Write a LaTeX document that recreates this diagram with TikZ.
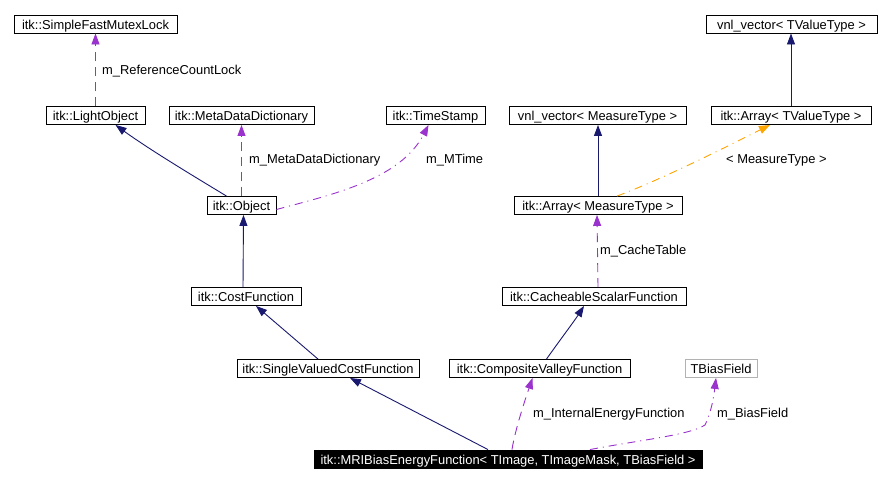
\documentclass[tikz,border=0pt]{standalone}
\usepackage{fontspec}
\setmainfont{Liberation Sans}
\usetikzlibrary{arrows.meta}
\definecolor{edgeblue}{HTML}{191970}
\definecolor{edgepurple}{HTML}{9A32CD}
\definecolor{edgeorange}{HTML}{FFA500}
\begin{document}
\begin{tikzpicture}[x=1pt,y=-1pt,
  cls/.style={draw=black,line width=0.9pt,fill=white,inner sep=0pt,minimum height=18pt,text height=11.5pt,text depth=0.9pt,font=\fontsize{12.9}{14}\selectfont},
  tmpl/.style={cls,draw=black!30},
  focus/.style={cls,fill=black,text=white},
  lbl/.style={anchor=west,inner sep=0pt,font=\fontsize{12.9}{14}\selectfont},
  inherit/.style={draw=edgeblue,line width=0.9pt,-{Triangle[length=11pt,width=8pt]}},
  usage/.style={draw=edgepurple,line width=0.9pt,dash pattern=on 9pt off 6pt,-{Triangle[length=11pt,width=8pt]}},
  usagedd/.style={draw=edgepurple,line width=0.9pt,dash pattern=on 8pt off 5pt on 1pt off 5pt,-{Triangle[length=11pt,width=8pt]}},
  tinst/.style={draw=edgeorange,line width=0.9pt,dash pattern=on 8pt off 5pt on 1pt off 5pt,-{Triangle[length=11pt,width=8pt]}}
]
\useasboundingbox[fill=white] (0,0) rectangle (890,483);
% nodes
\node[cls,minimum width=163pt] (sfml) at (95.5,24) {itk::SimpleFastMutexLock};
\node[cls,minimum width=99pt] (light) at (95.5,115.5) {itk::LightObject};
\node[cls,minimum width=145pt] (meta) at (241.5,115.5) {itk::MetaDataDictionary};
\node[cls,minimum width=99pt] (ts) at (435.5,115.5) {itk::TimeStamp};
\node[cls,minimum width=69pt] (obj) at (241.5,205.5) {itk::Object};
\node[cls,minimum width=110pt] (cost) at (246,296.5) {itk::CostFunction};
\node[cls,minimum width=182pt] (svcf) at (328,368.5) {itk::SingleValuedCostFunction};
\node[cls,minimum width=181pt] (cvf) at (539.5,368.5) {itk::CompositeValleyFunction};
\node[tmpl,minimum width=72pt] (tbf) at (721,368.5) {TBiasField};
\node[focus,minimum width=388pt] (mri) at (508,459) {itk::MRIBiasEnergyFunction< TImage, TImageMask, TBiasField >};
\node[cls,minimum width=177pt] (vnlm) at (597.5,115.5) {vnl\_vector< MeasureType >};
\node[cls,minimum width=160pt] (arrt) at (791,115.5) {itk::Array< TValueType >};
\node[cls,minimum width=171pt] (vnlt) at (791.5,24) {vnl\_vector< TValueType >};
\node[cls,minimum width=168pt] (arrm) at (598,205.5) {itk::Array< MeasureType >};
\node[cls,minimum width=184pt] (csf) at (594,296.5) {itk::CacheableScalarFunction};
% edges
\draw[usage] (light.north) -- (sfml.south);
\node[lbl] (l1) at (102,71) {m\_ReferenceCountLock};
\draw[inherit] ([xshift=-15pt]obj.north) .. controls (200,180) and (150,150) .. ([xshift=20pt]light.south);
\draw[usage] (obj.north) -- (meta.south);
\node[lbl] (l2) at (249,160) {m\_MetaDataDictionary};
\draw[usagedd] ([yshift=-4pt]obj.east) .. controls (330,195) and (400,180) .. ([xshift=-7pt]ts.south);
\node[lbl] (l3) at (426,160) {m\_MTime};
\draw[inherit] ([xshift=-3pt]cost.north) -- ([xshift=2pt]obj.south);
\draw[inherit] ([xshift=-10pt]svcf.north) -- ([xshift=10pt]cost.south);
\draw[inherit] ([xshift=-20pt]mri.north) -- ([xshift=22pt]svcf.south);
\draw[inherit] ([xshift=7pt]cvf.north) .. controls (560,340) and (575,320) .. ([xshift=-10pt]csf.south);
\draw[usage] ([xshift=4pt]csf.north) -- ([xshift=-1pt]arrm.south);
\node[lbl] (l4) at (600,251) {m\_CacheTable};
\draw[inherit] (arrm.north) -- ([xshift=0.5pt]vnlm.south);
\draw[tinst] ([xshift=19pt]arrm.north) .. controls (660,180) and (720,150) .. ([xshift=-21pt]arrt.south);
\node[lbl] (l5) at (726,160) {< MeasureType >};
\draw[inherit] (arrt.north) -- ([xshift=-0.5pt]vnlt.south);
\draw[usage] ([xshift=4pt]mri.north) .. controls (515,430) and (525,400) .. ([xshift=-7pt]cvf.south);
\node[lbl] (l6) at (533,414) {m\_InternalEnergyFunction};
\draw[usagedd] ([xshift=82pt]mri.north) .. controls (640,440) and (690,435) .. (705,425) .. controls (712,410) and (714,395) .. ([xshift=-5pt]tbf.south);
\node[lbl] (l7) at (717,414) {m\_BiasField};
\end{tikzpicture}
\end{document}
